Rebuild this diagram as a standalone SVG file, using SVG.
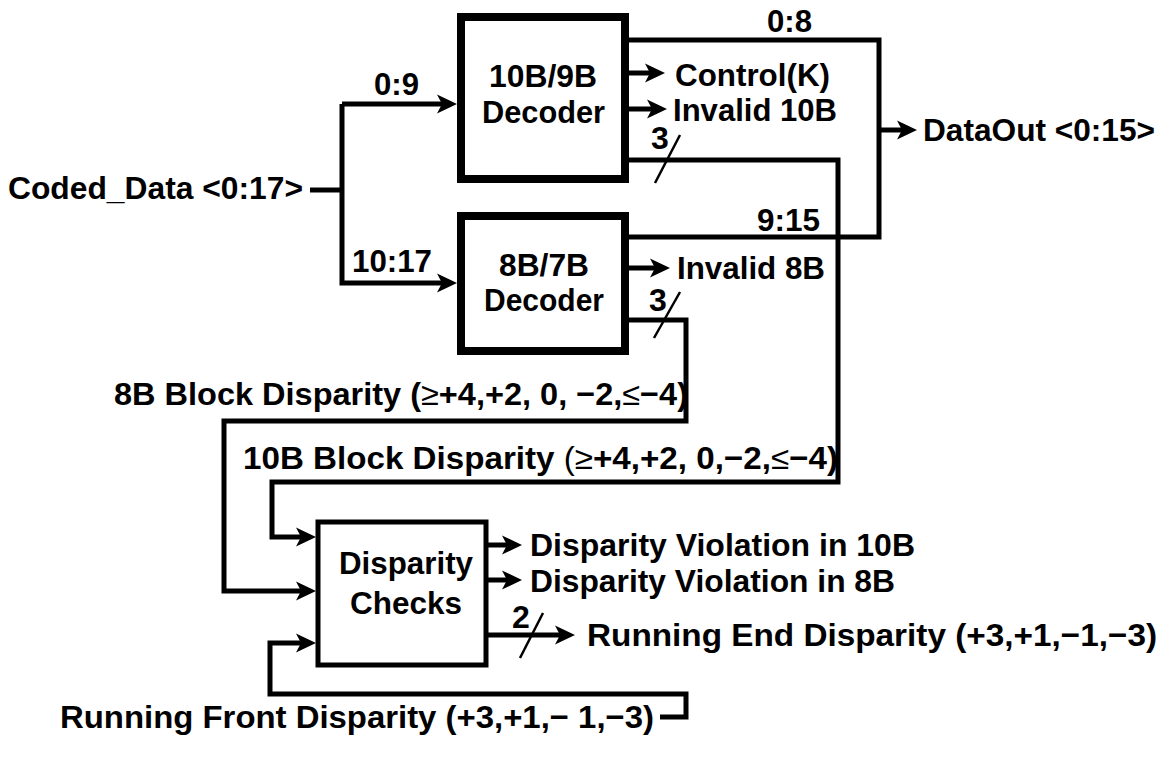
<svg xmlns="http://www.w3.org/2000/svg" width="1163" height="758" viewBox="0 0 1163 758">
<style>
text{font-family:"Liberation Sans",Arial,sans-serif;font-weight:bold;font-size:32px;fill:#000}
.w{fill:none;stroke:#000;stroke-width:5;stroke-linejoin:miter}
.a{fill:none;stroke:#000;stroke-width:5;marker-end:url(#ah)}
.box{fill:#fff;stroke:#000;stroke-width:8}
.box2{fill:#fff;stroke:#000;stroke-width:5}
.sl{stroke:#000;stroke-width:2.5}
.n{font-weight:normal}
</style>
<defs>
<marker id="ah" markerUnits="userSpaceOnUse" markerWidth="22" markerHeight="22" viewBox="0 0 22 22" refX="11" refY="11" orient="auto">
<path d="M0,1.5 L20,11 L0,20.5 L5,11 Z" fill="#000"/>
</marker>
</defs>
<rect width="1163" height="758" fill="#fff"/>
<g id="connectors">
<polyline class="w" points="310,190 342,190"/>
<polyline class="a" points="342,104 342,283 448,283"/>
<polyline class="a" points="342,104 448,104"/>
<polyline class="w" points="625,40 879,40 879,237 625,237"/>
<polyline class="a" points="879,130 908,130"/>
<polyline class="a" points="625,73 656,73"/>
<polyline class="a" points="625,109 658,109"/>
<polyline class="a" points="625,268 661,268"/>
<polyline class="a" points="625,160 838,160 838,482 272,482 272,537 307,537"/>
<polyline class="a" points="625,320 686,320 686,421 224,421 224,591 307,591"/>
<polyline class="a" points="660,717 686,717 686,694 270,694 270,643 307,643"/>
<polyline class="a" points="486,545 513,545"/>
<polyline class="a" points="486,580 513,580"/>
<polyline class="a" points="482,635 566,635"/>
<line class="sl" x1="680" y1="135" x2="655" y2="183"/>
<line class="sl" x1="680" y1="292" x2="654" y2="338"/>
<line class="sl" x1="543" y1="613" x2="520" y2="658"/>
<text x="374" y="95" textLength="45" lengthAdjust="spacingAndGlyphs">0:9</text>
<text x="352" y="272" textLength="80" lengthAdjust="spacingAndGlyphs">10:17</text>
<text x="767" y="32" textLength="45" lengthAdjust="spacingAndGlyphs">0:8</text>
<text x="757" y="231" textLength="63" lengthAdjust="spacingAndGlyphs">9:15</text>
<text x="651" y="149">3</text>
<text x="649" y="311">3</text>
<text x="512" y="628">2</text>
</g>
<g id="coded-data">
<text x="8" y="199" textLength="295" lengthAdjust="spacingAndGlyphs">Coded_Data &lt;0:17&gt;</text>
</g>
<g id="dec10b">
<rect class="box" x="461" y="17" width="164" height="162"/>
<text x="489" y="87" textLength="108" lengthAdjust="spacingAndGlyphs">10B/9B</text>
<text x="482" y="123" textLength="123" lengthAdjust="spacingAndGlyphs">Decoder</text>
</g>
<g id="dec8b">
<rect class="box" x="461" y="216" width="164" height="135"/>
<text x="499" y="276" textLength="90" lengthAdjust="spacingAndGlyphs">8B/7B</text>
<text x="484" y="311" textLength="120" lengthAdjust="spacingAndGlyphs">Decoder</text>
</g>
<g id="outputs">
<text x="675" y="86" textLength="155" lengthAdjust="spacingAndGlyphs">Control(K)</text>
<text x="673" y="121" textLength="164" lengthAdjust="spacingAndGlyphs">Invalid 10B</text>
<text x="923" y="141" textLength="232" lengthAdjust="spacingAndGlyphs">DataOut &lt;0:15&gt;</text>
<text x="677" y="279" textLength="148" lengthAdjust="spacingAndGlyphs">Invalid 8B</text>
</g>
<g id="disp-labels">
<text x="114" y="405" textLength="574" lengthAdjust="spacingAndGlyphs">8B Block Disparity (<tspan class="n">≥</tspan>+4,+2, 0, −2,<tspan class="n">≤</tspan>−4)</text>
<text x="243" y="469" textLength="595" lengthAdjust="spacingAndGlyphs">10B Block Disparity <tspan class="n">(≥</tspan>+4,+2, 0,−2,<tspan class="n">≤</tspan>−4)</text>
</g>
<g id="disparity-checks">
<rect class="box2" x="318" y="522" width="168" height="143"/>
<text x="339" y="574" textLength="134" lengthAdjust="spacingAndGlyphs">Disparity</text>
<text x="350" y="614" textLength="112" lengthAdjust="spacingAndGlyphs">Checks</text>
</g>
<g id="check-outputs">
<text x="530" y="556" textLength="385" lengthAdjust="spacingAndGlyphs">Disparity Violation in 10B</text>
<text x="530" y="592" textLength="365" lengthAdjust="spacingAndGlyphs">Disparity Violation in 8B</text>
<text x="587" y="646" textLength="570" lengthAdjust="spacingAndGlyphs">Running End Disparity (+3,+1,−1,−3)</text>
<text x="60" y="728" textLength="594" lengthAdjust="spacingAndGlyphs">Running Front Disparity (+3,+1,− 1,−3)</text>
</g>
</svg>
